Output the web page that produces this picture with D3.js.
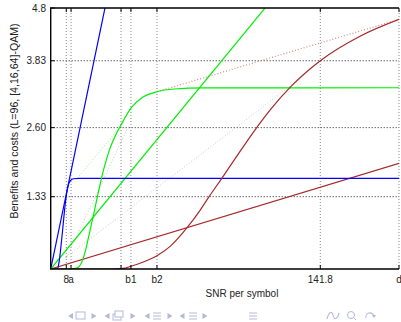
<!DOCTYPE html>
<html>
<head>
<meta charset="utf-8">
<script src="https://cdn.jsdelivr.net/npm/d3@7"></script>
<style>
  body { margin: 0; background: #fff; }
  svg { display: block; font-family: "Liberation Sans", Arial, sans-serif; }
</style>
</head>
<body>
<svg width="401" height="322"></svg>
<script>
// tick positions / labels
var xTicks = [8.2, 10.7, 37.0, 42.2, 55.9, 141.8, 183.2];
var xTickLabels = ["8", "a", "", "b1", "b2", "141.8", "d"];
var yTicks = [1.33, 2.60, 3.83, 4.8];
var yTickLabels = ["1.33", "2.60", "3.83", "4.8"];

// benefit curves (4, 16, 64-QAM)
var snr4 = [0, 3.5, 4.5, 5.5, 6.5, 7.5, 8.5, 9.5, 10.5, 12, 15, 183.2];
var ben4 = [0, 0, 0.15, 0.45, 0.8, 1.15, 1.42, 1.57, 1.63, 1.66, 1.667, 1.667];
var snr16 = [0, 10.7, 14, 16, 18, 20, 22.3, 25, 28, 31, 34, 37, 42.2, 48, 55.9, 65, 80, 183.2];
var ben16 = [0, 0, 0.02, 0.1, 0.3, 0.6, 0.96, 1.4, 1.85, 2.2, 2.45, 2.65, 2.96, 3.15, 3.26, 3.31, 3.33, 3.333];
var snr64 = [0, 30, 38, 42.2, 48, 55.9, 63, 71.5, 78, 83.3, 90, 98, 107.5, 116, 125.9, 141.8, 162.7, 183.2];
var ben64 = [0, 0, 0.01, 0.05, 0.12, 0.245, 0.42, 0.75, 1.05, 1.33, 1.667, 2.08, 2.56, 2.95, 3.34, 3.83, 4.28, 4.59];

// cost lines
var costX = [0, 183.2];
var cost4 = [0, 30.8];
var cost16 = [0, 7.8];
var cost64 = [0, 1.944];

// dotted helper lines
var pinkX = [55.9, 183.2], pinkY = [3.26, 4.59];
var gdotX = [14, 36.5], gdotY = [1.667, 2.62];
var gray1X = [0, 131], gray1Y = [0, 3.5];
var gray2X = [8.2, 40], gray2Y = [0.2, 2.56];

var svg = d3.select('svg');
var x = d3.scaleLinear().domain([0, 183.2]).range([50.7, 399]);
var y = d3.scaleLinear().domain([0, 4.8]).range([269, 8]);

function pts(xs, ys) { return xs.map(function(v, i) { return [v, ys[i]]; }); }

svg.append('defs').append('clipPath').attr('id', 'clip')
  .append('rect').attr('x', 50.7).attr('y', 8).attr('width', 348.3).attr('height', 261);

// grid
svg.append('g').selectAll('line').data(xTicks).enter().append('line')
  .attr('x1', function(d) { return x(d); }).attr('x2', function(d) { return x(d); })
  .attr('y1', y(0)).attr('y2', y(4.8))
  .attr('stroke', '#888').attr('stroke-width', 1).attr('stroke-dasharray', '1,2');
svg.append('g').selectAll('line').data(yTicks.slice(0, 3)).enter().append('line')
  .attr('x1', x(0)).attr('x2', x(183.2))
  .attr('y1', function(d) { return y(d); }).attr('y2', function(d) { return y(d); })
  .attr('stroke', '#222').attr('stroke-width', 1).attr('stroke-dasharray', '1,2');

var plot = svg.append('g').attr('clip-path', 'url(#clip)');
var line = d3.line().x(function(d) { return x(d[0]); }).y(function(d) { return y(d[1]); });
var curve = d3.line().x(function(d) { return x(d[0]); }).y(function(d) { return y(d[1]); })
  .curve(d3.curveMonotoneX);

// dotted lines
plot.append('path').attr('d', line(pts(gray1X, gray1Y))).attr('fill', 'none')
  .attr('stroke', '#c8c8c8').attr('stroke-dasharray', '1,2');
plot.append('path').attr('d', line(pts(gray2X, gray2Y))).attr('fill', 'none')
  .attr('stroke', '#c8c8c8').attr('stroke-dasharray', '1,2');
plot.append('path').attr('d', line(pts(gdotX, gdotY))).attr('fill', 'none')
  .attr('stroke', '#90f090').attr('stroke-dasharray', '1,2');
plot.append('path').attr('d', line(pts(pinkX, pinkY))).attr('fill', 'none')
  .attr('stroke', '#d08888').attr('stroke-width', 1.2).attr('stroke-dasharray', '1,2');

// cost lines
var colors = ['#0000ff', '#00ee00', '#a52a2a'];
[cost4, cost16, cost64].forEach(function(c, i) {
  plot.append('path').attr('d', line(pts(costX, c))).attr('fill', 'none')
    .attr('stroke', colors[i]).attr('stroke-width', 1.2);
});
// benefit curves
[[snr4, ben4], [snr16, ben16], [snr64, ben64]].forEach(function(s, i) {
  plot.append('path').attr('d', curve(pts(s[0], s[1]))).attr('fill', 'none')
    .attr('stroke', colors[i]).attr('stroke-width', 1.2);
});

// border: left, bottom, top
svg.append('path')
  .attr('d', 'M' + x(183.2) + ',' + y(4.8) + 'H' + x(0) + 'V' + y(0) + 'H' + x(183.2))
  .attr('fill', 'none').attr('stroke', '#000').attr('stroke-width', 1.4);

// tick marks
xTicks.forEach(function(t) {
  svg.append('line').attr('x1', x(t)).attr('x2', x(t)).attr('y1', y(0)).attr('y2', y(0) - 4)
    .attr('stroke', '#000');
  svg.append('line').attr('x1', x(t)).attr('x2', x(t)).attr('y1', y(4.8)).attr('y2', y(4.8) + 4)
    .attr('stroke', '#000');
});
yTicks.forEach(function(t) {
  svg.append('line').attr('x1', x(0)).attr('x2', x(0) + 4).attr('y1', y(t)).attr('y2', y(t))
    .attr('stroke', '#000');
});

// tick labels
svg.append('g').selectAll('text').data(xTicks).enter().append('text')
  .attr('x', function(d) { return x(d); }).attr('y', 283)
  .attr('text-anchor', 'middle').attr('font-size', 10).attr('fill', '#222')
  .text(function(d, i) { return xTickLabels[i]; });
svg.append('g').selectAll('text').data(yTicks).enter().append('text')
  .attr('x', 46).attr('y', function(d) { return y(d) + 3.5; })
  .attr('text-anchor', 'end').attr('font-size', 10).attr('fill', '#222')
  .text(function(d, i) { return yTickLabels[i]; });

svg.append('text').attr('x', 242).attr('y', 297).attr('text-anchor', 'middle')
  .attr('font-size', 10).attr('fill', '#222').text('SNR per symbol');
svg.append('text').attr('transform', 'translate(17.5,121) rotate(-90)')
  .attr('text-anchor', 'middle').attr('font-size', 10.6).attr('fill', '#222')
  .text('Benefits and costs (L=96, [4,16,64]-QAM)');

// beamer navigation symbols
var navC = '#b4b9da';
var nav = svg.append('g').attr('fill', navC).attr('stroke', navC).attr('font-size', 11);
var navY = 316;
function tri(cx, dir) {
  nav.append('path').attr('stroke', 'none')
    .attr('d', 'M' + (cx + dir * 2.5) + ',' + (navY - 3) + 'L' + (cx - dir * 2.5) + ',' + navY + 'L' + (cx + dir * 2.5) + ',' + (navY + 3) + 'Z');
}
tri(70.5, 1); tri(94, -1); tri(107, 1); tri(133, -1); tri(147, 1); tri(170, -1); tri(182, 1); tri(205, -1);
nav.append('rect').attr('x', 76).attr('y', navY - 4).attr('width', 9).attr('height', 7).attr('fill', 'none');
nav.append('rect').attr('x', 113).attr('y', navY - 2).attr('width', 8).attr('height', 6).attr('fill', 'none');
nav.append('rect').attr('x', 115).attr('y', navY - 5).attr('width', 8).attr('height', 6).attr('fill', '#fff');
[157, 193, 253].forEach(function(cx) {
  [-3, 0, 3].forEach(function(dy) {
    nav.append('line').attr('x1', cx - 4).attr('x2', cx + 4).attr('y1', navY + dy).attr('y2', navY + dy);
  });
});
nav.append('path').attr('fill', 'none').attr('stroke-width', 1.1)
  .attr('d', 'M327,319 C329,311 332,311 333,315 C334,320 337,320 339,313');
nav.append('circle').attr('cx', 351).attr('cy', 315).attr('r', 3.5).attr('fill', 'none');
nav.append('line').attr('x1', 353.5).attr('y1', 317.5).attr('x2', 356).attr('y2', 320);
nav.append('path').attr('fill', 'none').attr('stroke-width', 1.1)
  .attr('d', 'M366,318 A4,4 0 1,1 374,316');
nav.append('path').attr('stroke', 'none').attr('d', 'M372,315 L376,315 L374,318 Z');
</script>
</body>
</html>
